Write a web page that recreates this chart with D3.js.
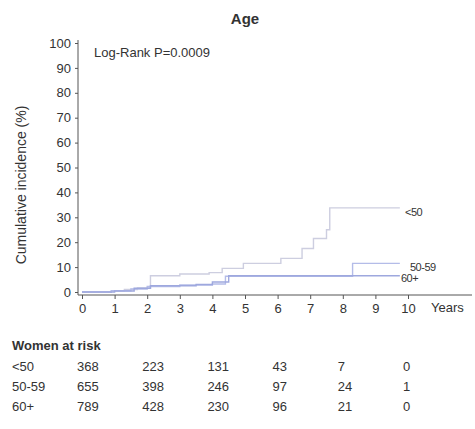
<!DOCTYPE html>
<html>
<head>
<meta charset="utf-8">
<script src="https://cdn.jsdelivr.net/npm/d3@7"></script>
<style>
  body { margin: 0; background: #fff; }
  svg { font-family: "Liberation Sans", Arial, sans-serif; }
</style>
</head>
<body>
<div id="chart"></div>
<script>
// step curves: [year, cumulative incidence %]
const groups = ['<50', '50-59', '60+'];
const lt50 = [[0, 0], [0.9, 0.5], [1.3, 1], [1.7, 1.6], [2.1, 6.5], [3.0, 7.2], [3.9, 7.8], [4.3, 9.5], [4.95, 11.5], [6.1, 13.5], [6.75, 17.5], [7.1, 21.5], [7.5, 25], [7.6, 33.8], [9.75, 33.8]];
const age5059 = [[0, 0], [0.9, 0.5], [1.5, 1.2], [2.0, 2.2], [3.0, 2.8], [4.0, 3.2], [4.4, 6.3], [8.3, 11.5], [9.75, 11.5]];
const age60 = [[0, 0], [1.0, 0.4], [1.6, 1.5], [2.1, 2.5], [3.5, 3.0], [4.0, 4.0], [4.5, 6.5], [9.75, 6.5]];
const yTicks = [0, 10, 20, 30, 40, 50, 60, 70, 80, 90, 100];
const xTicks = [0, 1, 2, 3, 4, 5, 6, 7, 8, 9, 10];
const riskYears = [0, 2, 4, 6, 8, 10];
const risk = [
  [368, 223, 131, 43, 7, 0],
  [655, 398, 246, 97, 24, 1],
  [789, 428, 230, 96, 21, 0]
];

const colors = ['#cdcee0', '#b4bce8', '#9ea8de'];
const series = [lt50, age5059, age60];

const W = 475, H = 429;
const svg = d3.select('#chart').append('svg').attr('width', W).attr('height', H);

const x = d3.scaleLinear().domain([0, 10]).range([82, 408]);
const y = d3.scaleLinear().domain([0, 100]).range([292, 43]);
const ink = '#333';

// title
svg.append('text').attr('x', 245).attr('y', 24).attr('text-anchor', 'middle')
  .style('font-size', '15px').style('font-weight', 'bold').attr('fill', ink).text('Age');

// y axis
const yAxis = svg.append('g').attr('transform', 'translate(78,0)')
  .call(d3.axisLeft(y).tickValues(yTicks).tickSize(3).tickPadding(4));
yAxis.select('.domain').attr('d', `M0,${y(100) - 3}V295`);
yAxis.selectAll('text').style('font-size', '13px').attr('fill', ink);
yAxis.selectAll('line, path').attr('stroke', '#555');

// x axis
const xAxis = svg.append('g').attr('transform', 'translate(0,295)')
  .call(d3.axisBottom(x).tickValues(xTicks).tickSize(4).tickPadding(5));
xAxis.select('.domain').attr('d', 'M78,0H472');
xAxis.selectAll('text').style('font-size', '13px').attr('fill', ink);
xAxis.selectAll('line, path').attr('stroke', '#555');

svg.append('text').attr('x', 431).attr('y', 312)
  .style('font-size', '13px').attr('fill', ink).text('Years');

// y label
svg.append('text').attr('transform', 'translate(26,185) rotate(-90)')
  .attr('text-anchor', 'middle').style('font-size', '14px').attr('fill', ink)
  .text('Cumulative incidence (%)');

svg.append('text').attr('x', 94).attr('y', 57)
  .style('font-size', '13px').attr('fill', ink).text('Log-Rank  P=0.0009');

// curves
const line = d3.line().x(d => x(d[0])).y(d => y(d[1])).curve(d3.curveStepAfter);
svg.selectAll('.curve').data(series).enter().append('path')
  .attr('class', 'curve')
  .attr('d', d => line(d))
  .attr('fill', 'none')
  .attr('stroke', (d, i) => colors[i])
  .attr('stroke-width', 1.4);

// curve labels
const labelPos = [[405, 216], [410, 271], [401, 282]];
svg.selectAll('.lab').data(groups).enter().append('text')
  .attr('x', (d, i) => labelPos[i][0]).attr('y', (d, i) => labelPos[i][1])
  .style('font-size', '11px').style('letter-spacing', '-0.5px').attr('fill', ink)
  .text(d => d);

// risk table
svg.append('text').attr('x', 12).attr('y', 350)
  .style('font-size', '13px').style('font-weight', 'bold').attr('fill', ink).text('Women at risk');
const rowY = [371, 391, 411];
groups.forEach((g, r) => {
  svg.append('text').attr('x', 12).attr('y', rowY[r])
    .style('font-size', '13px').attr('fill', ink).text(g);
  svg.selectAll(null).data(risk[r]).enter().append('text')
    .attr('x', (d, i) => x(riskYears[i]) - 5).attr('y', rowY[r])
    .style('font-size', '13px').attr('fill', ink).text(d => d);
});
</script>
</body>
</html>
